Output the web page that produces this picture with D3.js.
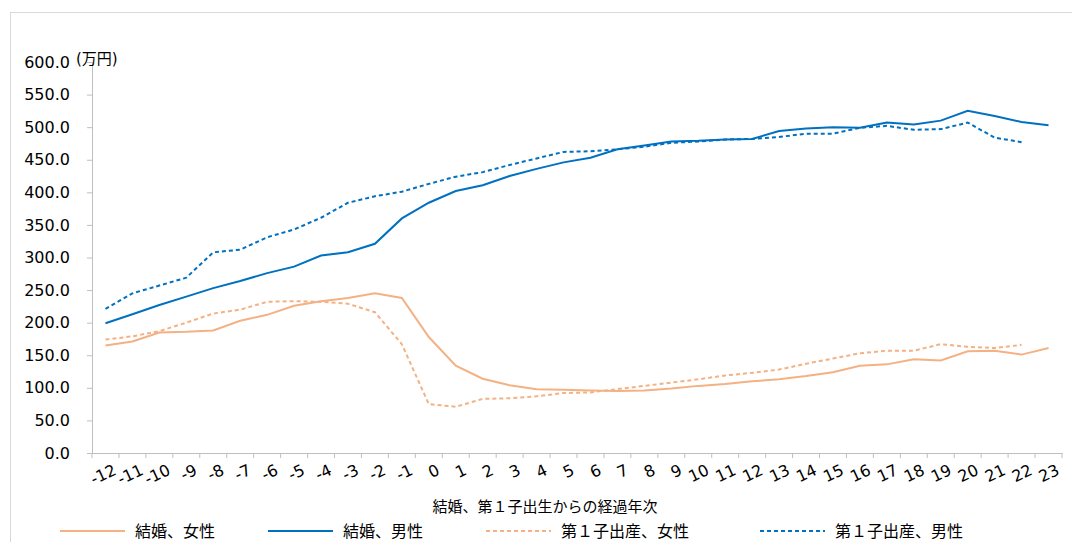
<!DOCTYPE html><html><head><meta charset="utf-8"><script src="https://cdn.jsdelivr.net/npm/d3@7"></script>
<style>body{margin:0;background:#fff}text{font-family:Verdana,"DejaVu Sans","Noto Sans CJK JP",sans-serif}</style></head><body><svg id="c" width="1072" height="542"></svg><script>
const categories=d3.range(-12,24).map(String);
const marriedF=[165,171,185,186,188,203,212,226,233,238,245,238,178,134,114,104,98,97,96,95,96,99,103,106,110,113,118,124,134,136,144,142,156,157,151,161];
const marriedM=[199,213,227,240,253,264,276,286,303,308,321,360,384,402,411,425,436,446,453,466,472,478,479,481,482,494,498,500,499,507,504,510,525,517,508,503];
const birthF=[174,179,187,200,214,220,232,233,232,229,216,167,75,71,83,84,87,92,93,98,103,108,113,119,123,128,137,145,153,157,157,167,163,161,166,null];
const birthM=[221,245,257,269,308,312,331,343,361,384,394,401,413,424,431,442,452,462,463,466,470,476,478,481,482,485,490,490,499,502,496,497,507,484,477,null];
const yTicks=d3.range(0,601,50);
const series=[
{name:"結婚、女性",v:marriedF,c:"#F4B183",d:null},
{name:"結婚、男性",v:marriedM,c:"#0070C0",d:null},
{name:"第１子出産、女性",v:birthF,c:"#F4B183",d:"4,3"},
{name:"第１子出産、男性",v:birthM,c:"#0070C0",d:"4,3"}];
const svg=d3.select("#c");
svg.append("rect").attr("x",10.5).attr("y",12.5).attr("width",1080).attr("height",560).attr("fill","none").attr("stroke","#d9d9d9");
const x=d3.scaleBand().domain(categories).range([92,1062]);
const y=d3.scaleLinear().domain([0,600]).range([453,62]);
const ya=svg.append("g").attr("transform","translate(92,0)").call(d3.axisLeft(y).tickValues(yTicks).tickFormat(d3.format(".1f")).tickSize(5));
ya.select(".domain").attr("stroke","#bfbfbf");ya.selectAll("line").attr("stroke","#bfbfbf");
ya.selectAll("text").attr("font-size",16).attr("fill","#000").attr("x",-22);
const xa=svg.append("g").attr("transform","translate(0,453)").call(d3.axisBottom(x).tickSize(0));
xa.select(".domain").attr("stroke","#bfbfbf");
xa.selectAll(".tick line").remove();
x.domain().concat(["_"]).forEach((c,i)=>{const px=92+i*x.bandwidth();svg.append("line").attr("x1",px).attr("x2",px).attr("y1",453).attr("y2",458).attr("stroke","#bfbfbf");});
xa.selectAll("text").attr("font-size",16).attr("fill","#000").attr("dy",0).attr("y",0)
 .attr("transform","translate(12,21) rotate(-25)").attr("text-anchor","end");
svg.append("text").attr("x",76).attr("y",64).attr("font-size",15).text("(万円)");
svg.append("text").attr("x",545).attr("y",512).attr("text-anchor","middle").attr("font-size",15).text("結婚、第１子出生からの経過年次");
const line=d3.line().defined(d=>d!=null).x((d,i)=>x(categories[i])+x.bandwidth()/2).y(d=>y(d));
series.forEach(s=>svg.append("path").attr("d",line(s.v)).attr("fill","none").attr("stroke",s.c).attr("stroke-width",2).attr("stroke-dasharray",s.d));
const lx=[60,268,486,760];
series.forEach((s,i)=>{svg.append("line").attr("x1",lx[i]).attr("x2",lx[i]+65).attr("y1",531).attr("y2",531).attr("stroke",s.c).attr("stroke-width",2).attr("stroke-dasharray",s.d);
svg.append("text").attr("x",lx[i]+75).attr("y",537).attr("font-size",16).text(s.name);});
</script></body></html>
